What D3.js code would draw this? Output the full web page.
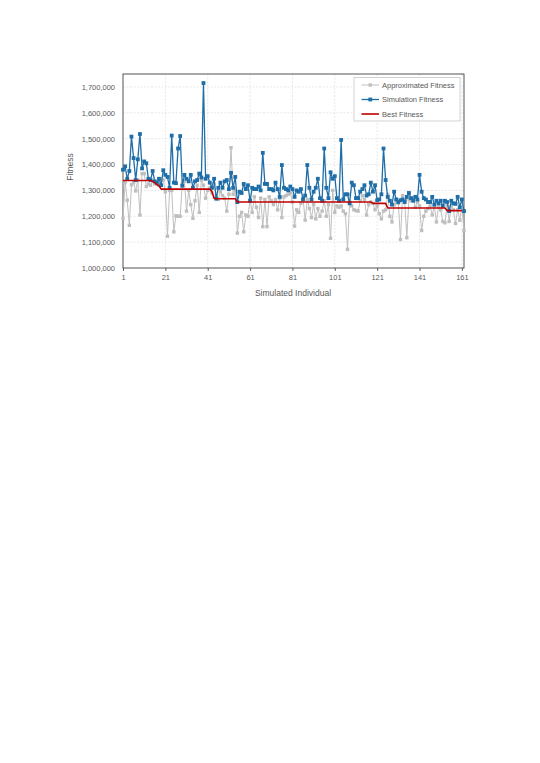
<!DOCTYPE html>
<html>
<head>
<meta charset="utf-8">
<script src="https://cdn.jsdelivr.net/npm/d3@7"></script>
<style>
  body { margin: 0; background: #ffffff; }
  svg { display: block; font-family: "Liberation Sans", Arial, sans-serif; }
  .grid line { stroke: #d9d9d9; stroke-width: 0.6px; stroke-dasharray: 2 1.5; }
  .axis text { fill: #595959; font-size: 7.5px; }
  .axis path.domain { display: none; }
  .axis line { stroke: #404040; }
  .title { fill: #595959; font-size: 8.5px; }
  .legend text { fill: #595959; font-size: 7.5px; }
</style>
</head>
<body>
<div id="chart"></div>
<script>
// values in thousands
const approximated = [
  1192, 1330, 1262, 1165, 1322, 1330, 1298, 1340, 1205, 1365,
  1365, 1315, 1325, 1320, 1335, 1325, 1330, 1320, 1345, 1340,
  1295, 1123, 1300, 1300, 1140, 1202, 1200, 1200, 1325, 1335,
  1220, 1300, 1245, 1192, 1260, 1320, 1215, 1340, 1320, 1270,
  1300, 1310, 1290, 1325, 1280, 1265, 1295, 1280, 1270, 1220,
  1285, 1465, 1285, 1300, 1135, 1200, 1215, 1140, 1205, 1200,
  1265, 1215, 1275, 1235, 1195, 1270, 1160, 1265, 1160, 1275,
  1260, 1245, 1265, 1225, 1270, 1195, 1275, 1280, 1285, 1290,
  1255, 1162, 1225, 1215, 1250, 1270, 1185, 1265, 1230, 1195,
  1245, 1190, 1230, 1200, 1220, 1260, 1200, 1245, 1115, 1300,
  1215, 1240, 1235, 1240, 1220, 1210, 1072, 1255, 1240, 1225,
  1222, 1220, 1260, 1280, 1265, 1205, 1245, 1255, 1250, 1225,
  1240, 1210, 1190, 1220, 1225, 1285, 1200, 1178, 1245, 1255,
  1250, 1110, 1280, 1260, 1117, 1265, 1260, 1270, 1235, 1255,
  1240, 1145, 1200, 1220, 1230, 1240, 1205, 1240, 1178, 1240,
  1225, 1180, 1175, 1240, 1180, 1240, 1225, 1172, 1225, 1185,
  1235, 1145
];

const simulation = [
  1380, 1393, 1345, 1375, 1508, 1425, 1340, 1420, 1518, 1385,
  1412, 1405, 1345, 1340, 1375, 1335, 1330, 1345, 1320, 1378,
  1360, 1352, 1310, 1512, 1330, 1328, 1462, 1510, 1318, 1360,
  1345, 1335, 1360, 1310, 1335, 1340, 1365, 1350, 1715, 1345,
  1355, 1330, 1310, 1345, 1268, 1310, 1330, 1310, 1335, 1340,
  1305, 1368, 1310, 1352, 1255, 1295, 1290, 1325, 1305, 1320,
  1260, 1310, 1305, 1305, 1315, 1300, 1445, 1325, 1325, 1305,
  1305, 1300, 1330, 1305, 1275, 1398, 1310, 1305, 1300, 1315,
  1305, 1275, 1300, 1295, 1305, 1265, 1280, 1398, 1310, 1265,
  1295, 1310, 1345, 1270, 1260, 1462, 1310, 1270, 1370, 1345,
  1355, 1270, 1260, 1495, 1265, 1285, 1285, 1250, 1330, 1320,
  1270, 1270, 1295, 1305, 1320, 1280, 1285, 1330, 1295, 1320,
  1262, 1265, 1285, 1462, 1340, 1275, 1260, 1245, 1295, 1265,
  1255, 1262, 1265, 1255, 1275, 1290, 1270, 1260, 1275, 1265,
  1360, 1295, 1270, 1265, 1255, 1255, 1275, 1245, 1260, 1250,
  1260, 1240, 1260, 1255, 1220, 1260, 1250, 1248, 1275, 1235,
  1265, 1220
];

// best fitness as runs of [value, count]
const bestRuns = [
  [1338, 14], [1335, 1], [1330, 1], [1322, 1], [1318, 1],
  [1305, 24], [1295, 1], [1270, 1], [1268, 10],
  [1255, 64], [1250, 7], [1232, 28], [1222, 8]
];
const best = bestRuns.flatMap(([v, n]) => Array(n).fill(v));

const yTicks = [1000000, 1100000, 1200000, 1300000, 1400000, 1500000, 1600000, 1700000];
const xTicks = [1, 21, 41, 61, 81, 101, 121, 141, 161];
const seriesNames = ['Approximated Fitness', 'Simulation Fitness', 'Best Fitness'];

const margin = { top: 74, left: 123 },
    width = 341,
    height = 194;

const svg = d3.select('#chart').append('svg')
    .attr('width', 540)
    .attr('height', 763);

const g = svg.append('g')
    .attr('transform', 'translate(' + margin.left + ',' + margin.top + ')');

const xScale = d3.scaleLinear().domain([1, simulation.length]).range([0, width]);
const yScale = d3.scaleLinear().domain([1000000, 1750000]).range([height, 0]);

// gridlines
g.append('g').attr('class', 'grid')
    .selectAll('line').data(yTicks.slice(1)).join('line')
    .attr('x1', 0).attr('x2', width)
    .attr('y1', d => yScale(d)).attr('y2', d => yScale(d));
g.append('g').attr('class', 'grid')
    .selectAll('line').data(xTicks.slice(1)).join('line')
    .attr('y1', 0).attr('y2', height)
    .attr('x1', d => xScale(d)).attr('x2', d => xScale(d));

// axes
g.append('g').attr('class', 'y axis')
    .call(d3.axisLeft(yScale).tickValues(yTicks).tickFormat(d3.format(',')).tickSize(0).tickPadding(8));

g.append('g').attr('class', 'x axis')
    .attr('transform', 'translate(0,' + height + ')')
    .call(d3.axisBottom(xScale).tickValues(xTicks).tickSize(3).tickPadding(4))
    .call(sel => sel.selectAll('line').attr('stroke-width', 0.8));

// plot frame
g.append('rect')
    .attr('width', width).attr('height', height)
    .attr('fill', 'none').attr('stroke', '#404040').attr('stroke-width', 0.9);

svg.append('text').attr('class', 'title')
    .attr('text-anchor', 'middle')
    .attr('transform', 'translate(73,' + (margin.top + 93) + ') rotate(-90)')
    .text('Fitness');
svg.append('text').attr('class', 'title')
    .attr('text-anchor', 'middle')
    .attr('x', margin.left + width / 2 - 0.5).attr('y', 296)
    .text('Simulated Individual');

const line = d3.line()
    .x((d, i) => xScale(i + 1))
    .y(d => yScale(d * 1000));

const styles = [
    { data: approximated, color: '#bfbfbf', width: 1, marker: 3.4 },
    { data: simulation, color: '#1f6ea8', width: 1.3, marker: 3.8 },
    { data: best, color: '#c00000', width: 1.6, marker: 0 }
];

styles.forEach(s => {
    g.append('path')
        .attr('d', line(s.data))
        .attr('fill', 'none')
        .attr('stroke', s.color)
        .attr('stroke-width', s.width)
        .attr('stroke-linejoin', 'round');
    if (s.marker) {
        g.append('g').selectAll('rect').data(s.data).join('rect')
            .attr('x', (d, i) => xScale(i + 1) - s.marker / 2)
            .attr('y', d => yScale(d * 1000) - s.marker / 2)
            .attr('width', s.marker).attr('height', s.marker)
            .attr('fill', s.color);
    }
});

// legend
const legend = svg.append('g').attr('class', 'legend')
    .attr('transform', 'translate(354,77.5)');
legend.append('rect')
    .attr('width', 106).attr('height', 43.5)
    .attr('fill', '#ffffff').attr('stroke', '#bfbfbf').attr('stroke-width', 0.7);
seriesNames.forEach((name, i) => {
    const s = styles[i];
    const item = legend.append('g').attr('transform', 'translate(0,' + (7.5 + i * 14.5) + ')');
    item.append('line')
        .attr('x1', 7.5).attr('x2', 25)
        .attr('stroke', s.color).attr('stroke-width', s.width);
    if (s.marker) {
        item.append('rect')
            .attr('x', 16.25 - s.marker / 2).attr('y', -s.marker / 2)
            .attr('width', s.marker).attr('height', s.marker)
            .attr('fill', s.color);
    }
    item.append('text')
        .attr('x', 28).attr('dy', '0.35em')
        .text(name);
});
</script>
</body>
</html>
